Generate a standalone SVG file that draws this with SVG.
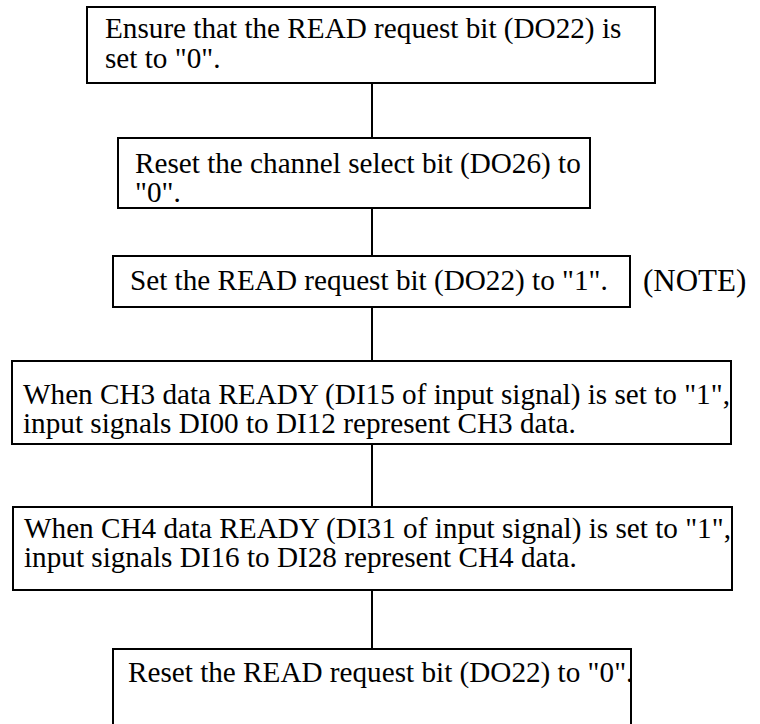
<svg xmlns="http://www.w3.org/2000/svg" width="760" height="724" viewBox="0 0 760 724">
<style>
.box{fill:#fff;stroke:#000;stroke-width:2}
.t{font-family:"Liberation Serif","Times New Roman",serif;font-size:29.2px;fill:#000}
.c{stroke:#000;stroke-width:2;fill:none}
</style>
<rect width="760" height="724" fill="#fff"/>
<g id="connectors">
<line class="c" x1="372" y1="83" x2="372" y2="138"/>
<line class="c" x1="372" y1="208" x2="372" y2="256"/>
<line class="c" x1="372" y1="307" x2="372" y2="361"/>
<line class="c" x1="372" y1="444" x2="372" y2="507"/>
<line class="c" x1="372" y1="590" x2="372" y2="649"/>
</g>
<g id="n1">
<rect class="box" x="87" y="7" width="568" height="76"/>
<text class="t" x="105" y="38">Ensure that the READ request bit (DO22) is</text>
<text class="t" x="105" y="68">set to "0".</text>
</g>
<g id="n2">
<rect class="box" x="118" y="138" width="472" height="70"/>
<text class="t" x="135" y="173">Reset the channel select bit (DO26) to</text>
<text class="t" x="135" y="202">"0".</text>
</g>
<g id="n3">
<rect class="box" x="113" y="256" width="517" height="51"/>
<text class="t" x="130" y="290">Set the READ request bit (DO22) to "1".</text>
</g>
<text id="note" class="t" x="643" y="291" style="font-size:31px">(NOTE)</text>
<g id="n4">
<rect class="box" x="12" y="361" width="719" height="83"/>
<text class="t" x="23" y="404">When CH3 data READY (DI15 of input signal) is set to "1",</text>
<text class="t" x="23" y="433">input signals DI00 to DI12 represent CH3 data.</text>
</g>
<g id="n5">
<rect class="box" x="13" y="507" width="719" height="83"/>
<text class="t" x="24" y="538">When CH4 data READY (DI31 of input signal) is set to "1",</text>
<text class="t" x="24" y="567">input signals DI16 to DI28 represent CH4 data.</text>
</g>
<g id="n6">
<rect class="box" x="113" y="649" width="518" height="90"/>
<text class="t" x="128" y="682">Reset the READ request bit (DO22) to "0".</text>
</g>
</svg>
